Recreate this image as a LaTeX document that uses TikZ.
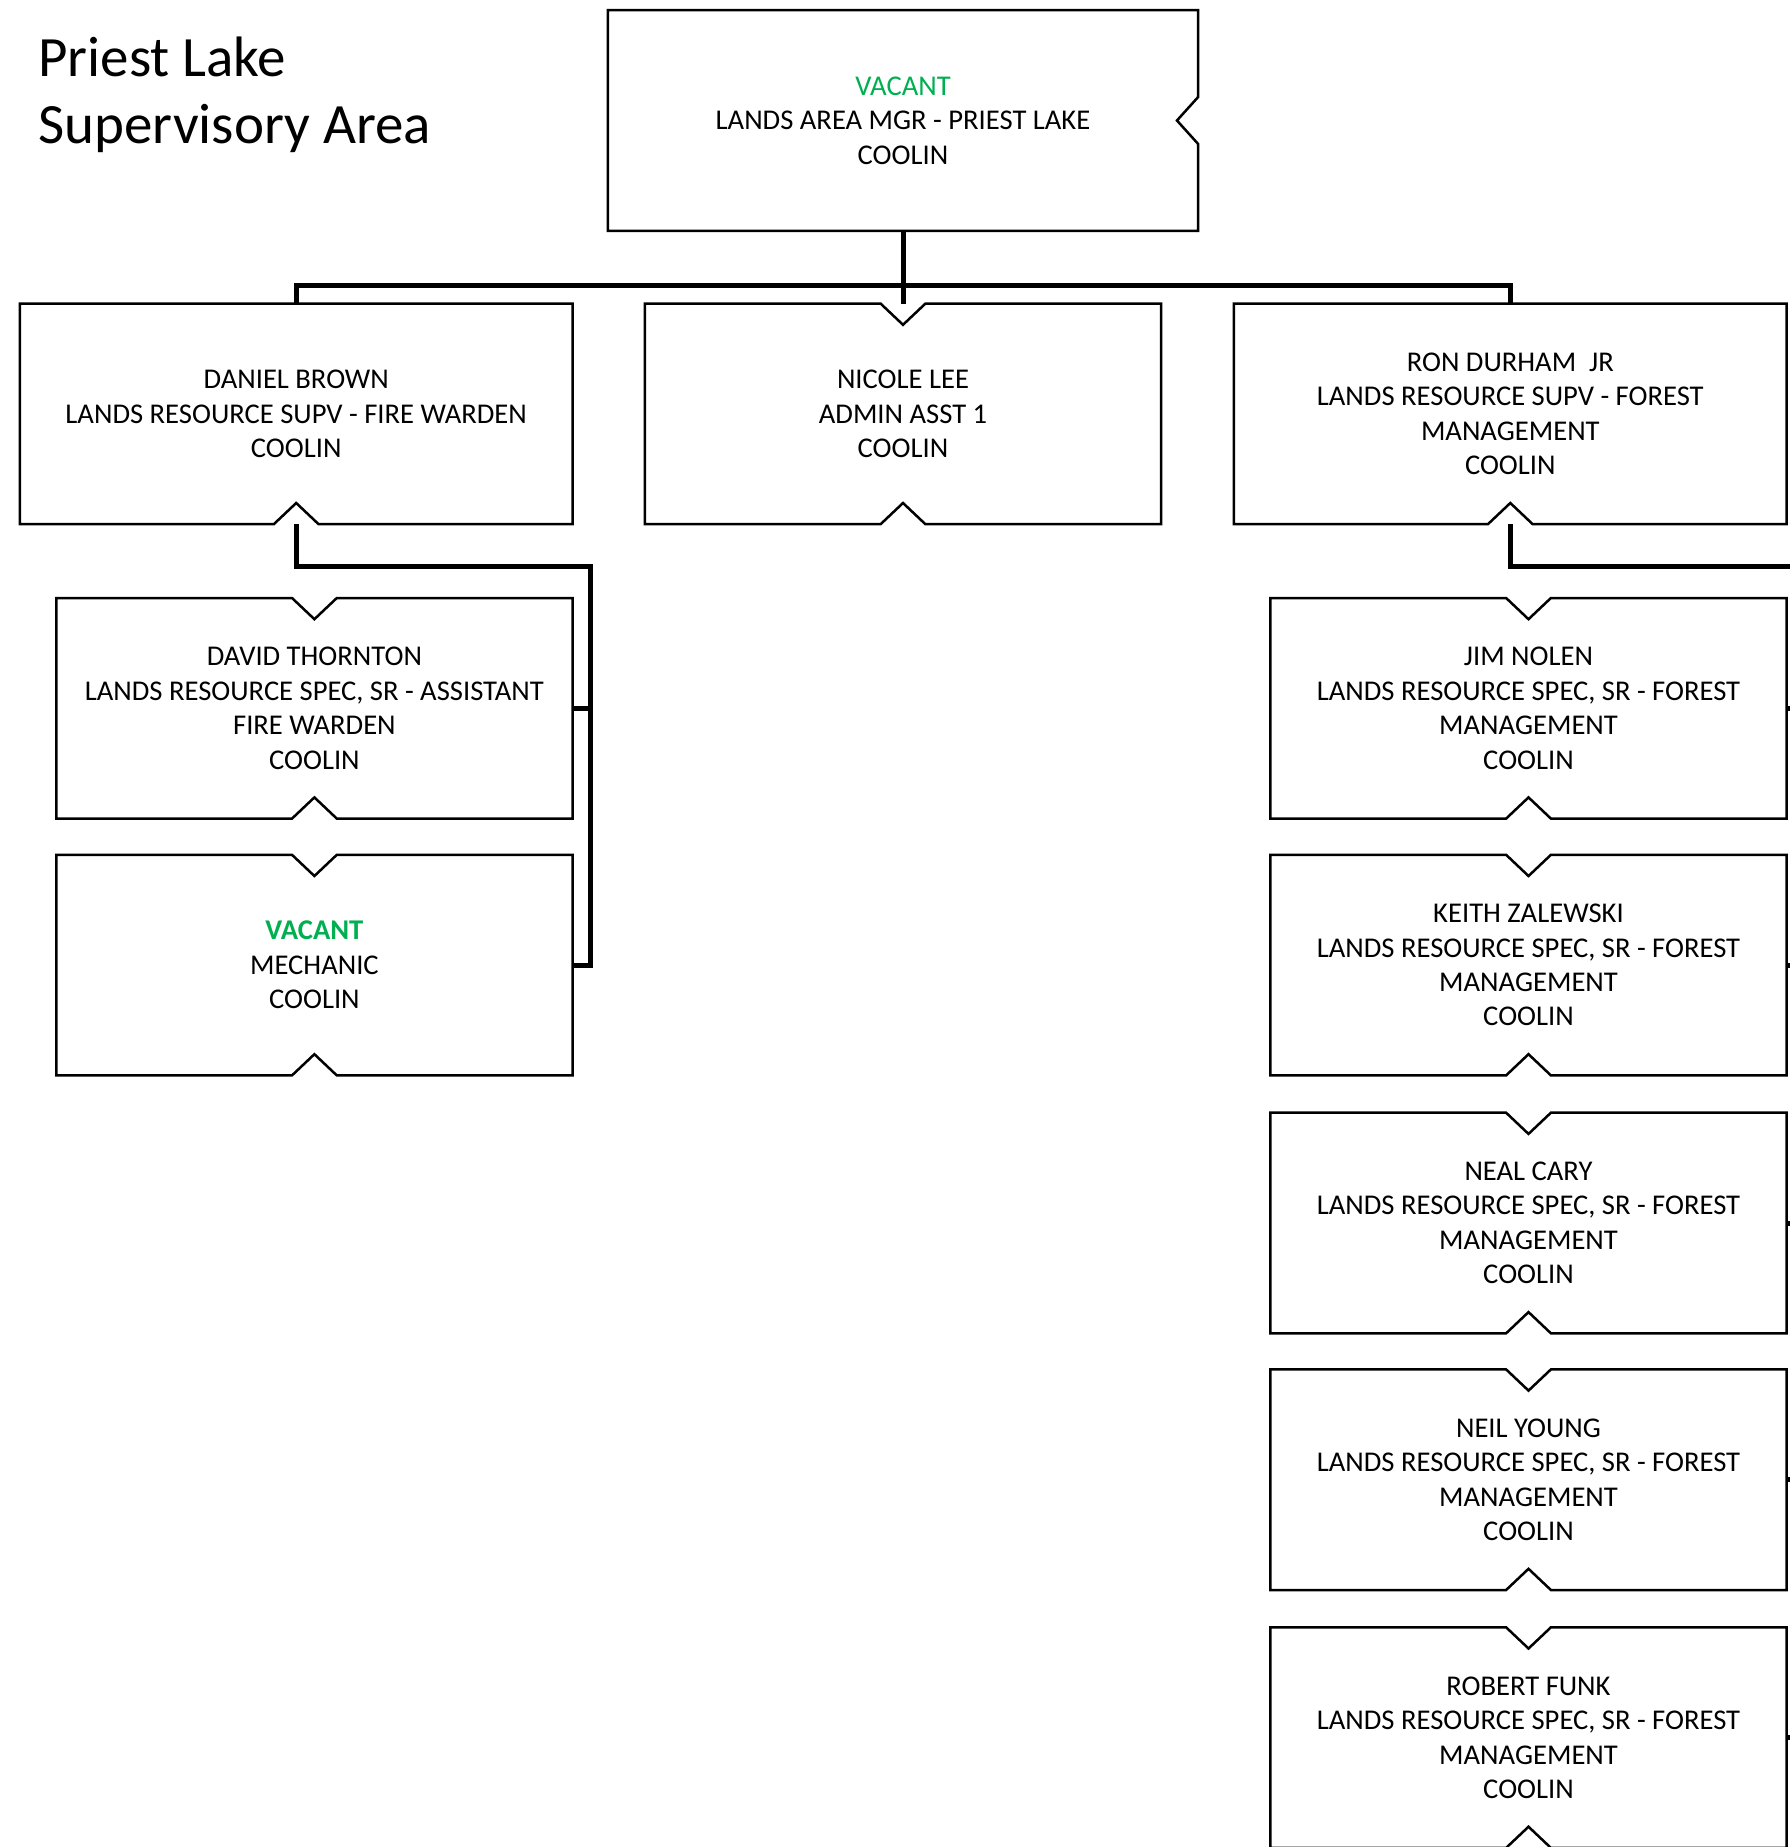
\documentclass[tikz,border=0pt]{standalone}
\usepackage{fontspec}
\setmainfont{Carlito}
\usetikzlibrary{calc}
\definecolor{vacgreen}{HTML}{00B050}
\newcommand\drawboxtb[1]{%
  \draw[boxline] (#1.north west) -- ($(#1.north)+(-22.4,0)$) -- ++(22.4,21.2) -- ++(22.4,-21.2)
    -- (#1.north east) -- (#1.south east) -- ($(#1.south)+(22.4,0)$) -- ++(-22.4,-21.2)
    -- ++(-22.4,21.2) -- (#1.south west) -- cycle;}
\newcommand\drawboxb[1]{%
  \draw[boxline] (#1.north west) -- (#1.north east) -- (#1.south east) -- ($(#1.south)+(22.4,0)$)
    -- ++(-22.4,-21.2) -- ++(-22.4,21.2) -- (#1.south west) -- cycle;}
\begin{document}
\begin{tikzpicture}[x=1pt,y=-1pt,
  boxline/.style={line width=2.5pt,line join=miter},
  conn/.style={line width=5pt,line join=miter},
  orgnode/.style={rectangle,inner sep=0pt,minimum height=220.2pt,align=center,
    font={\fontsize{28.6}{34.4}\selectfont}},
  widebox/.style={orgnode,minimum width=552.3pt},
  narrowbox/.style={orgnode,minimum width=515.8pt}]
\useasboundingbox (0,0) rectangle (1790,1847);
\clip (0,0) rectangle (1790,1847);
\fill[white] (0,0) rectangle (1790,1847);

\node[anchor=base west,align=left,inner sep=0pt,font={\fontsize{57}{67}\selectfont}] (title) at (38,143)
  {Priest Lake\\Supervisory Area};

% top box
\node[orgnode,minimum width=589.9pt] (top) at (903,120.5)
  {\textcolor{vacgreen}{VACANT}\\LANDS AREA MGR - PRIEST LAKE\\COOLIN};
\draw[boxline] (top.north west) -- (top.north east) -- ($(top.east)+(0,-23.5)$) -- ++(-21.2,23.5)
  -- ++(21.2,23.5) -- (top.south east) -- (top.south west) -- cycle;

% level 2
\node[widebox] (daniel) at (296.2,413.9)
  {DANIEL BROWN\\LANDS RESOURCE SUPV - FIRE WARDEN\\COOLIN};
\node[narrowbox] (nicole) at (903,413.9)
  {NICOLE LEE\\ADMIN ASST 1\\COOLIN};
\node[widebox] (ron) at (1510.3,413.9)
  {RON DURHAM\ \ JR\\LANDS RESOURCE SUPV - FOREST\\MANAGEMENT\\COOLIN};
\drawboxb{daniel}
\drawboxtb{nicole}
\drawboxb{ron}

% Daniel's staff
\node[narrowbox] (david) at (314.4,708.3)
  {DAVID THORNTON\\LANDS RESOURCE SPEC, SR - ASSISTANT\\FIRE WARDEN\\COOLIN};
\node[narrowbox] (mech) at (314.4,965.1)
  {\textcolor{vacgreen}{\bfseries VACANT}\\MECHANIC\\COOLIN};
\drawboxtb{david}
\drawboxtb{mech}

% Ron's staff
\node[narrowbox] (jim) at (1528.5,708.3)
  {JIM NOLEN\\LANDS RESOURCE SPEC, SR - FOREST\\MANAGEMENT\\COOLIN};
\node[narrowbox] (keith) at (1528.5,965.1)
  {KEITH ZALEWSKI\\LANDS RESOURCE SPEC, SR - FOREST\\MANAGEMENT\\COOLIN};
\node[narrowbox] (neal) at (1528.5,1223)
  {NEAL CARY\\LANDS RESOURCE SPEC, SR - FOREST\\MANAGEMENT\\COOLIN};
\node[narrowbox] (neil) at (1528.5,1479.7)
  {NEIL YOUNG\\LANDS RESOURCE SPEC, SR - FOREST\\MANAGEMENT\\COOLIN};
\node[narrowbox] (robert) at (1528.5,1737.6)
  {ROBERT FUNK\\LANDS RESOURCE SPEC, SR - FOREST\\MANAGEMENT\\COOLIN};
\drawboxtb{jim}
\drawboxtb{keith}
\drawboxtb{neal}
\drawboxtb{neil}
\drawboxtb{robert}

% connectors
\coordinate (bus) at (0,285);
\coordinate (dtrunk) at (590,566.4);
\coordinate (rtrunk) at (1804,566.4);
\draw[conn] (top.south) -- (nicole.north);
\draw[conn] (daniel.north) -- (daniel.north |- bus) -- (ron.north |- bus) -- (ron.north);
\draw[conn] (daniel.south) -- (daniel.south |- dtrunk) -- (dtrunk) -- (dtrunk |- mech.east) -- (mech.east);
\draw[conn] (dtrunk |- david.east) -- (david.east);
\draw[conn] (ron.south) -- (ron.south |- rtrunk) -- (rtrunk) -- (rtrunk |- robert.east) -- (robert.east);
\foreach \n in {jim,keith,neal,neil}{\draw[conn] (rtrunk |- \n.east) -- (\n.east);}
\end{tikzpicture}
\end{document}
